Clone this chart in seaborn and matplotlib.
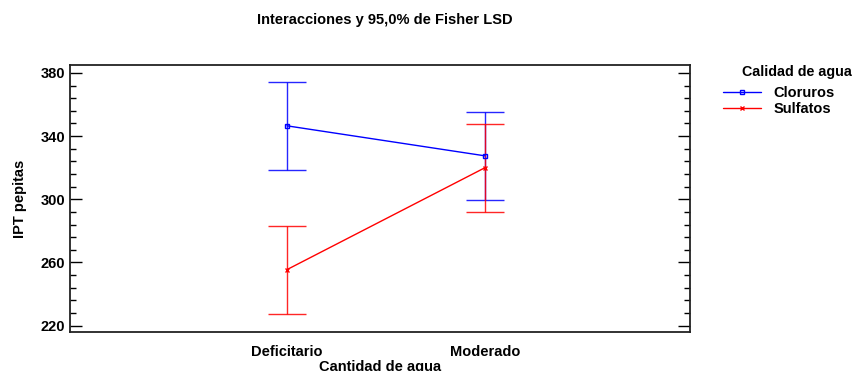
import pandas as pd
import seaborn as sns
import matplotlib.pyplot as plt
from matplotlib.ticker import FixedLocator
from matplotlib.lines import Line2D

# Values
cantidad = ["Deficitario", "Moderado"]
cloruros_media = [346.5, 327.5]
sulfatos_media = [255.5, 320.0]
lsd_half = [27.8, 27.8]

df = pd.DataFrame({
    "Cantidad de agua": cantidad * 2,
    "pos": [0, 1] * 2,
    "IPT pepitas": cloruros_media + sulfatos_media,
    "Calidad de agua": ["Cloruros"] * 2 + ["Sulfatos"] * 2,
})

sns.set_style("white")
plt.rcParams["font.family"] = ["Liberation Sans", "DejaVu Sans"]
plt.rcParams["font.weight"] = "bold"
for k in ["text.color", "axes.labelcolor", "xtick.color", "ytick.color"]:
    plt.rcParams[k] = "black"

fig = plt.figure(figsize=(8.55, 3.71), dpi=100)
ax = fig.add_axes([0.0819, 0.1051, 0.725, 0.7197])

colors = {"Cloruros": "#0000ff", "Sulfatos": "#ff0000"}

# LSD intervals first, lines and markers on top
for grp in ["Cloruros", "Sulfatos"]:
    sub = df[df["Calidad de agua"] == grp]
    ax.errorbar(sub["pos"], sub["IPT pepitas"], yerr=lsd_half, fmt="none",
                ecolor=colors[grp], elinewidth=1, capsize=14, capthick=1,
                alpha=0.85, zorder=1)

sns.lineplot(data=df, x="pos", y="IPT pepitas", hue="Calidad de agua",
             palette=colors, lw=1, ax=ax, legend=False, zorder=3)
for line, grp in zip(ax.get_lines()[-2:], ["Cloruros", "Sulfatos"]):
    line.set_zorder(3)
    if grp == "Cloruros":
        line.set_marker("s")
        line.set_markerfacecolor("none")
    else:
        line.set_marker("x")
    line.set_markeredgecolor(colors[grp])
    line.set_markeredgewidth(1)
    line.set_markersize(3.5)

handles = [
    Line2D([], [], color="#0000ff", lw=1, marker="s", markersize=3.5,
           markerfacecolor="none"),
    Line2D([], [], color="#ff0000", lw=1, marker="x", markersize=3.5),
]
leg = ax.legend(handles, ["Cloruros", "Sulfatos"],
                loc="upper left", bbox_to_anchor=(1.053, 0.921), frameon=False,
                prop={"weight": "bold", "size": 10.5}, handlelength=2.6,
                labelspacing=0.12, borderaxespad=0, borderpad=0,
                handletextpad=0.9)
fig.text(742 / 855, 1 - 72 / 371, "Calidad de agua", ha="left", va="center",
         fontweight="bold", fontsize=10.3)

ax.set_xlim(-1.096, 2.035)
ax.set_ylim(216, 385)
ax.set_xticks([0, 1])
ax.set_xticklabels(cantidad, fontweight="bold", fontsize=10.5)
ax.yaxis.set_major_locator(FixedLocator([220, 260, 300, 340, 380]))
ax.yaxis.set_minor_locator(FixedLocator(list(range(220, 385, 8))))
ax.tick_params(axis="x", length=0, pad=9)
ax.tick_params(axis="y", which="major", direction="in", length=8.5, width=1,
               left=True, right=True, labelsize=10.5)
ax.tick_params(axis="y", which="minor", direction="in", length=4.5, width=1,
               left=True, right=True)
for lab in ax.get_yticklabels():
    lab.set_fontweight("bold")

for s in ax.spines.values():
    s.set_linewidth(1.3)
    s.set_color("#222222")

ax.set_xlabel("Cantidad de agua", fontweight="bold", fontsize=10.5, labelpad=1)
ax.set_ylabel("IPT pepitas", fontweight="bold", fontsize=10.5, labelpad=10)
fig.text(0.4503, 0.946, "Interacciones y 95,0% de Fisher LSD",
         ha="center", va="center", fontweight="bold", fontsize=10.5)

fig.savefig("out.png", dpi=100)
